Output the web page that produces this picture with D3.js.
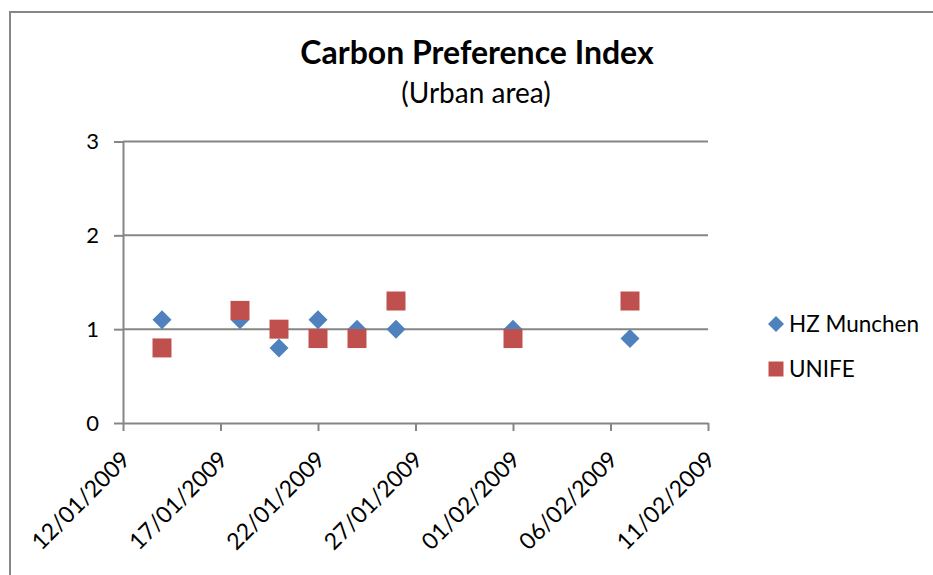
<!DOCTYPE html>
<html>
<head>
<meta charset="utf-8">
<script src="https://cdn.jsdelivr.net/npm/d3@7"></script>
<style>
  html, body { margin: 0; padding: 0; background: #fff; }
  svg { display: block; font-family: Lato, "Open Sans", sans-serif; }
</style>
</head>
<body>
<svg id="chart" width="933" height="575"></svg>
<script>
// Sampling dates (dd/mm/yyyy)
const sampleDates = ["14/01/2009", "18/01/2009", "20/01/2009", "22/01/2009",
                     "24/01/2009", "26/01/2009", "01/02/2009", "07/02/2009"];
// Carbon Preference Index per laboratory
const hzMunchen = [1.1, 1.1, 0.8, 1.1, 1.0, 1.0, 1.0, 0.9];
const unife     = [0.8, 1.2, 1.0, 0.9, 0.9, 1.3, 0.9, 1.3];
// Axis ticks
const xTickLabels = ["12/01/2009", "17/01/2009", "22/01/2009", "27/01/2009",
                     "01/02/2009", "06/02/2009", "11/02/2009"];
const yTicks = [0, 1, 2, 3];

const parse = d3.utcParse("%d/%m/%Y");
const fmt = d3.utcFormat("%d/%m/%Y");

const svg = d3.select("#chart");
const plot = { left: 123, right: 708, top: 141.5, bottom: 423 };

const x = d3.scaleUtc()
  .domain([parse(xTickLabels[0]), parse(xTickLabels[xTickLabels.length - 1])])
  .range([plot.left, plot.right]);
const y = d3.scaleLinear().domain([0, 3]).range([plot.bottom, plot.top]);

const gray = "#868686";

// Outer chart frame
svg.append("path")
  .attr("d", "M10,575 L10,12 L933,12")
  .attr("fill", "none").attr("stroke", gray).attr("stroke-width", 2);

// Horizontal gridlines
svg.append("g").selectAll("line").data(yTicks.filter(d => d > 0)).join("line")
  .attr("x1", plot.left).attr("x2", plot.right)
  .attr("y1", d => y(d)).attr("y2", d => y(d))
  .attr("stroke", gray).attr("stroke-width", 2);

// Y axis
const yAxis = svg.append("g")
  .attr("transform", `translate(${plot.left},0)`)
  .call(d3.axisLeft(y).tickValues(yTicks).tickSize(9).tickSizeOuter(0).tickPadding(15).tickFormat(d3.format("d")));
yAxis.select(".domain").attr("stroke", gray).attr("stroke-width", 2);
yAxis.selectAll(".tick line").attr("stroke", gray).attr("stroke-width", 2);
yAxis.selectAll(".tick text").attr("font-size", 22).attr("fill", "#000")
  .attr("font-family", "Lato, sans-serif");

// X axis
const xAxis = svg.append("g")
  .attr("transform", `translate(0,${plot.bottom})`)
  .call(d3.axisBottom(x).tickValues(xTickLabels.map(parse)).tickSize(8).tickSizeOuter(0).tickFormat(fmt));
xAxis.select(".domain").attr("stroke", gray).attr("stroke-width", 2);
xAxis.selectAll(".tick line").attr("stroke", gray).attr("stroke-width", 2);
xAxis.selectAll(".tick text")
  .attr("font-size", 23).attr("fill", "#000")
  .attr("font-family", "Lato, sans-serif")
  .attr("text-anchor", "end")
  .attr("y", 0).attr("dy", 0)
  .attr("transform", "translate(8,38) rotate(-45)");

// Series markers
const series = [
  { name: "HZ Munchen", values: hzMunchen, color: "#4F81BD", symbol: "diamond" },
  { name: "UNIFE", values: unife, color: "#C0504D", symbol: "square" }
];

function markerPath(kind) {
  if (kind === "diamond") return "M0,-9.5 L9.5,0 L0,9.5 L-9.5,0 Z";
  return "M-9.5,-9.5 L9.5,-9.5 L9.5,9.5 L-9.5,9.5 Z";
}

series.forEach(s => {
  svg.append("g").selectAll("path")
    .data(sampleDates.map((d, i) => ({ date: parse(d), v: s.values[i] })))
    .join("path")
    .attr("d", markerPath(s.symbol))
    .attr("transform", d => `translate(${x(d.date)},${y(d.v)})`)
    .attr("fill", s.color);
});

// Title
svg.append("text")
  .attr("x", 477).attr("y", 64).attr("text-anchor", "middle")
  .attr("font-size", 32).attr("font-weight", "bold").attr("fill", "#000")
  .text("Carbon Preference Index");
svg.append("text")
  .attr("x", 476).attr("y", 103).attr("text-anchor", "middle")
  .attr("font-size", 28).attr("fill", "#000")
  .text("(Urban area)");

// Legend
const legend = svg.append("g").attr("transform", "translate(776,0)");
series.forEach((s, i) => {
  const cy = 324 + i * 45;
  legend.append("path")
    .attr("d", s.symbol === "diamond" ? "M0,-8 L8,0 L0,8 L-8,0 Z" : "M-7.5,-7.5 L7.5,-7.5 L7.5,7.5 L-7.5,7.5 Z")
    .attr("transform", `translate(0,${cy})`)
    .attr("fill", s.color);
  legend.append("text")
    .attr("x", 13).attr("y", cy + 8)
    .attr("font-size", 22.5).attr("fill", "#000")
    .text(s.name);
});
</script>
</body>
</html>
